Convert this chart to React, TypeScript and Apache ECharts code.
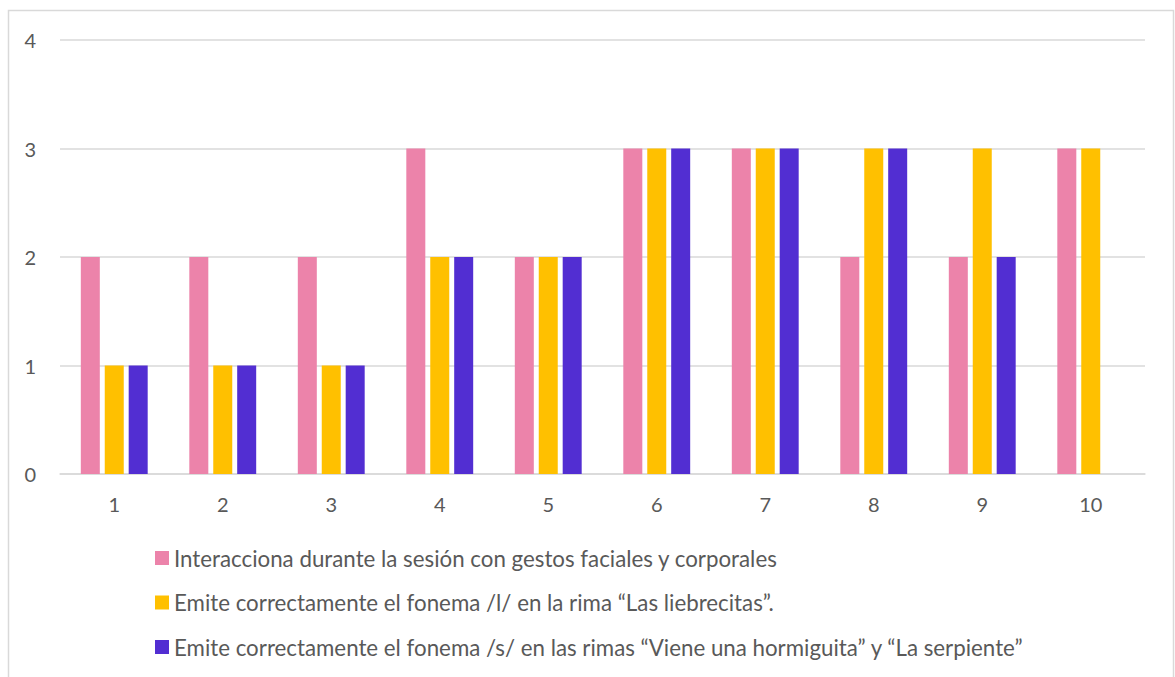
import React, { useEffect, useRef } from "react";
import * as echarts from "echarts";

const categories = ["1", "2", "3", "4", "5", "6", "7", "8", "9", "10"];
const seriesNames = [
  "Interacciona durante la sesión con gestos faciales y corporales",
  "Emite correctamente el fonema /l/ en la rima “Las liebrecitas”.",
  "Emite correctamente el fonema /s/ en las rimas “Viene una hormiguita” y “La serpiente”",
];
const gestos = [2, 2, 2, 3, 2, 3, 3, 2, 2, 3];
const fonemaL = [1, 1, 1, 2, 2, 3, 3, 3, 3, 3];
const fonemaS = [1, 1, 1, 2, 2, 3, 3, 3, 2, null];
const colors = ["#EC83AA", "#FFC000", "#522ED2"];

export default function App() {
  const ref = useRef<HTMLDivElement>(null);
  useEffect(() => {
    const chart = echarts.init(ref.current!, null, { renderer: "svg" });
    const font = "Lato, 'Open Sans', sans-serif";
    const values = [gestos, fonemaL, fonemaS];
    chart.setOption({
      animation: false,
      textStyle: { fontFamily: font },
      graphic: [
        {
          type: "rect",
          shape: { x: 8.5, y: 10.5, width: 1165, height: 720 },
          style: { fill: "none", stroke: "#D9D9D9", lineWidth: 1.5 },
          silent: true,
        },
      ],
      grid: { left: 60, right: 30, top: 40, bottom: 203, containLabel: false },
      xAxis: {
        type: "category",
        data: categories,
        axisLine: { lineStyle: { color: "#D9D9D9", width: 1.5 } },
        axisTick: { show: false },
        axisLabel: { color: "#595959", fontSize: 20, margin: 20, fontFamily: font },
      },
      yAxis: {
        type: "value",
        min: 0,
        max: 4,
        interval: 1,
        axisLine: { show: false },
        axisTick: { show: false },
        splitLine: { lineStyle: { color: "#D9D9D9", width: 1.5 } },
        axisLabel: { color: "#595959", fontSize: 20, margin: 24, fontFamily: font },
      },
      legend: {
        orient: "vertical",
        left: 150,
        top: 542,
        itemWidth: 14,
        itemHeight: 14,
        itemGap: 22.5,
        itemStyle: { borderWidth: 0 },
        icon: "rect",
        textStyle: { color: "#595959", fontSize: 22.3, lineHeight: 22, fontFamily: font },
        data: seriesNames,
      },
      series: seriesNames.map((name, i) => ({
        name,
        type: "bar",
        data: values[i],
        barWidth: 19,
        barGap: "26%",
        itemStyle: { color: colors[i] },
      })),
    });
    return () => chart.dispose();
  }, []);
  return (
    <div
      ref={ref}
      style={{ position: "absolute", left: 0, top: 0, width: 1175, height: 677, background: "#fff" }}
    />
  );
}
